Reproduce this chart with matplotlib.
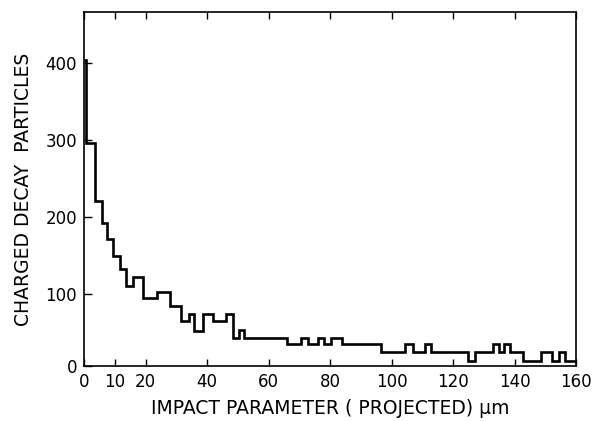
import matplotlib.pyplot as plt

# bin edges (µm) and counts
edges = [0, 0.7, 3.6, 5.7, 7.6, 9.5, 11.6, 13.6, 15.9, 19.2,
         23.6, 27.9, 31.5, 34.2, 35.9, 38.6, 41.8, 46.2, 48.4, 50.3,
         51.9, 66, 70.6, 72.7, 76, 78.2, 80.3, 83.8, 96.6, 104.5,
         106.9, 110.9, 112.8, 124.8, 127, 132.9, 135, 136.7, 138.6, 142.7,
         148.6, 152.2, 154.6, 156.4, 160]
counts = [404, 296, 221, 192, 171, 149, 132, 110, 122, 94,
          102, 84, 64, 73, 52, 74, 64, 74, 42, 53,
          42, 35, 42, 35, 42, 35, 42, 35, 24, 35,
          24, 35, 24, 12, 24, 35, 24, 35, 24, 13,
          24, 13, 24, 13]

xticks = [0, 10, 20, 40, 60, 80, 100, 120, 140, 160]
yticks = [6, 100, 200, 300, 400]
ytick_labels = ["0", "100", "200", "300", "400"]

fig = plt.figure(figsize=(5.92, 4.21), dpi=100)
ax = fig.add_axes([84 / 592, 1 - 366 / 421, 492 / 592, 354 / 421])

ax.stairs(counts, edges, baseline=None, color="black", linewidth=1.9)

ax.set_xlim(0, 160)
ax.set_ylim(6, 466)
ax.set_xticks(xticks)
ax.set_yticks(yticks)
ax.set_yticklabels(ytick_labels)
ax.tick_params(direction="in", length=5, width=1, top=True, right=False,
               labelsize=12, pad=5)
ax.tick_params(axis="y", length=6)
for s in ax.spines.values():
    s.set_linewidth(1.2)

ax.set_xlabel("IMPACT PARAMETER ( PROJECTED) µm", fontsize=13.5, labelpad=6)
ax.set_ylabel("CHARGED DECAY  PARTICLES", fontsize=13.5, labelpad=9)

fig.savefig("out.png", dpi=100)
